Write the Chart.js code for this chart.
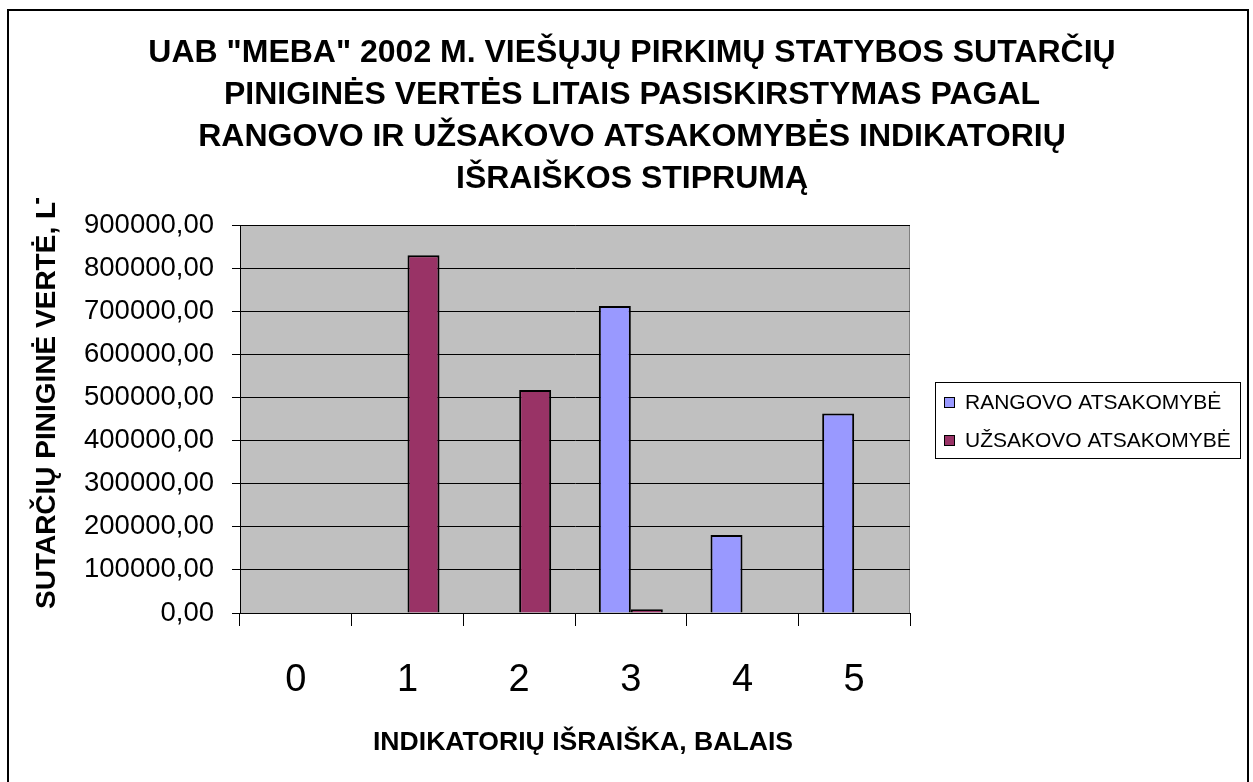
<!DOCTYPE html>
<html>
<head>
<meta charset="utf-8">
<script src="https://cdn.jsdelivr.net/npm/chart.js@4/dist/chart.umd.min.js"></script>
<style>
  html, body { margin: 0; padding: 0; background: #fff; }
  canvas { display: block; }
</style>
</head>
<body>
<canvas id="chart" width="1253" height="782"></canvas>
<script>
const categories = ['0', '1', '2', '3', '4', '5'];
const rangovo = [null, null, null, 712000, 181000, 463000];
const uzsakovo = [null, 830000, 517000, 8600, null, null];
const seriesNames = ['RANGOVO ATSAKOMYBĖ', 'UŽSAKOVO ATSAKOMYBĖ'];
const titleLines = [
  'UAB "MEBA" 2002 M. VIEŠŲJŲ PIRKIMŲ STATYBOS SUTARČIŲ',
  'PINIGINĖS VERTĖS LITAIS PASISKIRSTYMAS PAGAL',
  'RANGOVO IR UŽSAKOVO ATSAKOMYBĖS INDIKATORIŲ',
  'IŠRAIŠKOS STIPRUMĄ',
];
const yTitle = 'SUTARČIŲ PINIGINĖ VERTĖ, LT';
const xTitle = 'INDIKATORIŲ IŠRAIŠKA, BALAIS';

const FONT = '"Liberation Sans", Arial, sans-serif';

// excel-like frame, plot background, titles and legend
const decor = {
  id: 'decor',
  beforeDraw(chart) {
    const { ctx, chartArea: a } = chart;
    ctx.save();
    ctx.fillStyle = '#fff';
    ctx.fillRect(0, 0, chart.width, chart.height);
    ctx.fillStyle = '#c0c0c0';
    ctx.fillRect(a.left, a.top, a.right - a.left, a.bottom - a.top);
    ctx.strokeStyle = '#808080';
    ctx.lineWidth = 1;
    ctx.beginPath();
    ctx.moveTo(a.left, a.top + 0.5);
    ctx.lineTo(a.right - 0.5, a.top + 0.5);
    ctx.lineTo(a.right - 0.5, a.bottom);
    ctx.stroke();
    ctx.restore();
  },
  afterDraw(chart) {
    const { ctx } = chart;
    ctx.save();
    ctx.strokeStyle = '#000';
    ctx.lineWidth = 2;
    ctx.strokeRect(8, 10, 1240, 790);

    ctx.fillStyle = '#000';
    ctx.textAlign = 'center';
    ctx.textBaseline = 'middle';
    ctx.font = 'bold 32px ' + FONT;
    titleLines.forEach((line, i) => ctx.fillText(line, 632, 53 + i * 42));

    ctx.font = 'bold 26.6px ' + FONT;
    ctx.fillText(xTitle, 583, 743);

    // y title, clipped at the top like the original
    ctx.save();
    ctx.beginPath();
    ctx.rect(0, 198, 200, 500);
    ctx.clip();
    ctx.translate(47, 609);
    ctx.rotate(-Math.PI / 2);
    ctx.textAlign = 'left';
    ctx.font = 'bold 28px ' + FONT;
    ctx.fillText(yTitle, 0, 0);
    ctx.restore();

    // legend
    ctx.lineWidth = 1;
    ctx.strokeRect(935.5, 382.5, 305, 76);
    ctx.font = '21px ' + FONT;
    ctx.textAlign = 'left';
    chart.data.datasets.forEach((ds, i) => {
      const y = 402 + i * 38;
      ctx.fillStyle = ds.backgroundColor;
      ctx.fillRect(944, y - 5, 10, 10);
      ctx.strokeStyle = '#000';
      ctx.strokeRect(944.5, y - 4.5, 10, 10);
      ctx.fillStyle = '#000';
      ctx.fillText(ds.label, 965, y + 1);
    });
    ctx.restore();
  },
};

new Chart(document.getElementById('chart'), {
  type: 'bar',
  data: {
    labels: categories,
    datasets: [
      {
        label: seriesNames[0],
        data: rangovo,
        backgroundColor: '#9999ff',
        borderColor: '#000',
        borderWidth: 2,
      },
      {
        label: seriesNames[1],
        data: uzsakovo,
        backgroundColor: '#993366',
        borderColor: '#000',
        borderWidth: 2,
      },
    ],
  },
  options: {
    responsive: false,
    animation: false,
    devicePixelRatio: 1,
    categoryPercentage: 0.573,
    barPercentage: 1,
    layout: { padding: { top: 225, right: 343, bottom: 0, left: 0 } },
    plugins: {
      legend: { display: false },
      tooltip: { enabled: false },
    },
    scales: {
      x: {
        afterFit: (scale) => { scale.height = 169; },
        grid: {
          offset: true,
          drawOnChartArea: false,
          color: '#000',
          tickLength: 13,
        },
        border: { color: '#000', width: 1 },
        ticks: {
          color: '#000',
          font: { family: FONT, size: 38 },
          padding: 32,
        },
      },
      y: {
        min: 0,
        max: 900000,
        afterFit: (scale) => { scale.width = 240; },
        grid: { color: '#000', lineWidth: 1, tickLength: 8 },
        border: { color: '#000', width: 1 },
        ticks: {
          stepSize: 100000,
          color: '#000',
          font: { family: FONT, size: 27.5 },
          padding: 18,
          callback: (v) => v.toFixed(2).replace('.', ','),
        },
      },
    },
  },
  plugins: [decor],
});
</script>
</body>
</html>
